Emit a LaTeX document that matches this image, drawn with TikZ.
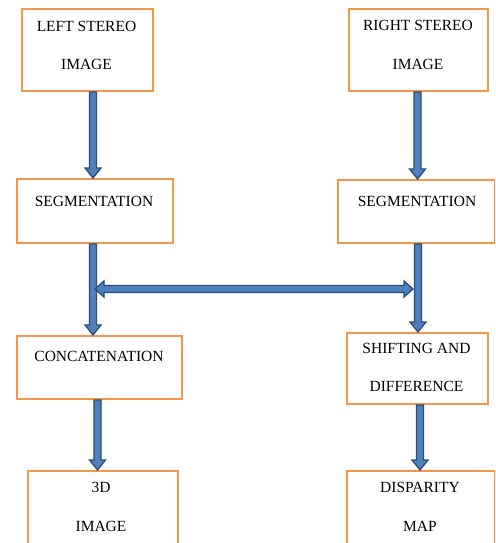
\documentclass[tikz,border=0pt]{standalone}
\usepackage{fontspec}
\setmainfont{Liberation Serif}
\usetikzlibrary{calc}
\definecolor{boxor}{HTML}{F79646}
\definecolor{arrfill}{HTML}{4F81BD}
\definecolor{arrline}{HTML}{2C4D75}
\tikzset{
  box/.style={draw=boxor, line width=2pt, fill=white, inner sep=0pt, anchor=north west},
  txt/.style={font=\fontsize{15.5}{18}\selectfont, inner sep=0pt, text height=10.2pt, text depth=0pt},
  downarrow/.style={draw=arrline, fill=arrfill, line width=1.3pt, line join=miter,
    to path={let \p1=(\tikztostart), \p2=(\tikztotarget) in
      (\x1-3.5pt,\y1) -- (\x1-3.5pt,\y2+10pt) -- (\x1-8pt,\y2+10pt) -- (\x1,\y2)
      -- (\x1+8pt,\y2+10pt) -- (\x1+3.5pt,\y2+10pt) -- (\x1+3.5pt,\y1) -- cycle}},
  botharrow/.style={draw=arrline, fill=arrfill, line width=1.3pt, line join=miter,
    to path={let \p1=(\tikztostart), \p2=(\tikztotarget) in
      (\x1,\y1) -- (\x1+9pt,\y1+8pt) -- (\x1+9pt,\y1+3.5pt) -- (\x2-9pt,\y1+3.5pt)
      -- (\x2-9pt,\y1+8pt) -- (\x2,\y1) -- (\x2-9pt,\y1-8pt) -- (\x2-9pt,\y1-3.5pt)
      -- (\x1+9pt,\y1-3.5pt) -- (\x1+9pt,\y1-8pt) -- cycle}}
}
\begin{document}
\begin{tikzpicture}[x=1pt, y=-1pt]
\useasboundingbox (0,0) rectangle (495,543);
\fill[white] (0,0) rectangle (495,543);
\clip (0,0) rectangle (495,543);

% boxes
\node[box, minimum width=131pt, minimum height=82pt] (ls) at (21,8) {};
\node[box, minimum width=139pt, minimum height=82pt] (rs) at (348,8) {};
\node[box, minimum width=156pt, minimum height=64pt] (segl) at (16,178) {};
\node[box, minimum width=157pt, minimum height=63pt] (segr) at (337,179) {};
\node[box, minimum width=165pt, minimum height=63pt] (conc) at (16,335) {};
\node[box, minimum width=141pt, minimum height=71pt] (shift) at (346,332) {};
\node[box, minimum width=150pt, minimum height=90pt] (threed) at (27,470) {};
\node[box, minimum width=148pt, minimum height=90pt] (disp) at (346,470) {};

% texts
\node[txt] (ls1) at (86.5,26) {LEFT STEREO};
\node[txt] (ls2) at (86.5,64) {IMAGE};
\node[txt] (rs1) at (418,25) {RIGHT STEREO};
\node[txt] (rs2) at (418,64) {IMAGE};
\node[txt] (segl1) at (94,201) {SEGMENTATION};
\node[txt] (segr1) at (417,201) {SEGMENTATION};
\node[txt] (conc1) at (99,356) {CONCATENATION};
\node[txt] (shift1) at (416.5,348) {SHIFTING AND};
\node[txt] (shift2) at (416.5,386) {DIFFERENCE};
\node[txt] (threed1) at (101,487) {3D};
\node[txt] (threed2) at (101,526) {IMAGE};
\node[txt] (disp1) at (420,487) {DISPARITY};
\node[txt] (disp2) at (420,526) {MAP};

% arrows
\draw[downarrow] ([xshift=5.5pt]ls.south) to (segl.north);
\draw[downarrow] ([xshift=-1pt]rs.south) to (segr.north);
\draw[downarrow] ([xshift=-2pt]segl.south) to (conc.north);
\draw[downarrow] ([xshift=1.5pt]segr.south) to (shift.north);
\draw[downarrow] ([xshift=-2pt]conc.south) to (threed.north);
\draw[downarrow] ([xshift=2.5pt]shift.south) to (disp.north);

\coordinate (hl) at (95,289);
\coordinate (hr) at (413,289);
\draw[botharrow] (hl) to (hr);
\end{tikzpicture}
\end{document}
